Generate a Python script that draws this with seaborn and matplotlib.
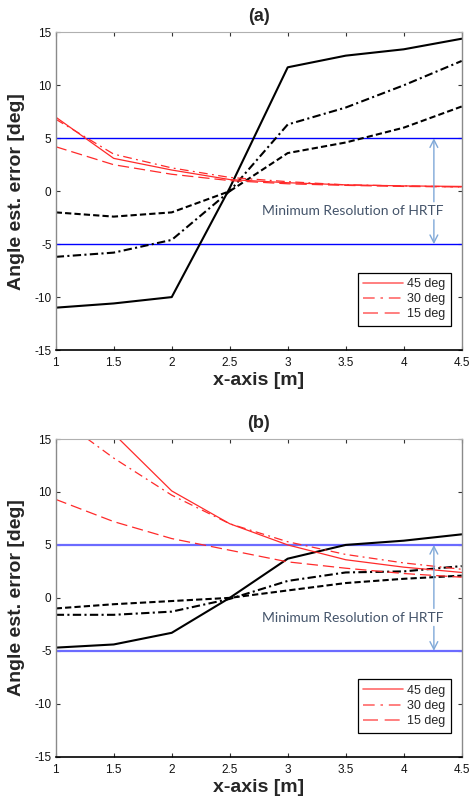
import matplotlib
matplotlib.use("Agg")
import matplotlib.pyplot as plt
from matplotlib.lines import Line2D
import numpy as np
import pandas as pd
import seaborn as sns

# Source-listener distance [m]
dist = [1.0, 1.5, 2.0, 2.5, 3.0, 3.5, 4.0, 4.5]

# Panel (a): angle estimation error [deg]
a_black_solid = [-11.0, -10.6, -10.0, 0.3, 11.7, 12.8, 13.4, 14.4]
a_black_dashdot = [-6.2, -5.8, -4.6, 0.0, 6.3, 7.9, 10.0, 12.3]
a_black_dashed = [-2.0, -2.4, -2.0, 0.0, 3.6, 4.6, 6.0, 8.0]
a_red_45 = [7.0, 3.1, 2.0, 1.1, 0.8, 0.6, 0.5, 0.45]
a_red_30 = [6.8, 3.5, 2.2, 1.3, 0.9, 0.6, 0.5, 0.4]
a_red_15 = [4.2, 2.5, 1.6, 1.0, 0.7, 0.55, 0.45, 0.4]

# Panel (b): angle estimation error [deg]
b_black_solid = [-4.7, -4.4, -3.3, 0.0, 3.7, 5.0, 5.4, 6.0]
b_black_dashdot = [-1.6, -1.6, -1.3, -0.1, 1.6, 2.4, 2.5, 3.0]
b_black_dashed = [-1.0, -0.6, -0.3, 0.0, 0.7, 1.4, 1.8, 2.1]
b_red_45 = [22.0, 15.5, 10.1, 7.0, 5.0, 3.6, 2.9, 2.4]
b_red_30 = [17.2, 13.2, 9.7, 7.0, 5.3, 4.1, 3.3, 2.7]
b_red_15 = [9.3, 7.2, 5.6, 4.5, 3.4, 2.8, 2.3, 1.95]

legend_labels = ["45 deg", "30 deg", "15 deg"]
x_ticks = [1, 1.5, 2, 2.5, 3, 3.5, 4, 4.5]
x_tick_labels = ["1", "1.5", "2", "2.5", "3", "3.5", "4", "4.5"]
y_ticks = [-15, -10, -5, 0, 5, 10, 15]
resolution = 5.0

sns.set_style("ticks")
plt.rcParams["font.family"] = ["Liberation Sans", "DejaVu Sans"]
plt.rcParams["axes.unicode_minus"] = False

fig = plt.figure(figsize=(4.71, 8.01), dpi=100)
ax_a = fig.add_axes([0.1183, 0.5630, 0.8620, 0.3966])
ax_b = fig.add_axes([0.1183, 0.0553, 0.8620, 0.3966])

red = "#ff2a2a"
red_leg = "#ff6a6a"
black_styles = ["-", (0, (4, 1.6, 1, 1.6)), (0, (3, 1.5))]
red_styles = ["-", (0, (7, 3.5, 1.5, 3.5)), (0, (9, 4))]


def draw_panel(ax, title, blacks, reds, hline_color, hline_lw):
    for vals, ls in zip(blacks, black_styles):
        sns.lineplot(x=dist, y=vals, ax=ax, color="black", lw=1.5,
                     linestyle=ls, legend=False)
    for vals, ls in zip(reds, red_styles):
        sns.lineplot(x=dist, y=vals, ax=ax, color=red, lw=0.9,
                     linestyle=ls, legend=False)

    ax.axhline(resolution, color=hline_color, lw=hline_lw, zorder=1)
    ax.axhline(-resolution, color=hline_color, lw=hline_lw, zorder=1)

    arrow_x = 4.26
    arrow_kw = dict(arrowstyle="->,head_length=0.55,head_width=0.28",
                    color="#7fa8d8", lw=1.0, shrinkA=0, shrinkB=0)
    ax.annotate("", xy=(arrow_x, resolution), xytext=(arrow_x, -1.0),
                arrowprops=arrow_kw)
    ax.annotate("", xy=(arrow_x, -resolution), xytext=(arrow_x, -2.7),
                arrowprops=arrow_kw)
    ax.text(3.56, -1.86, "Minimum Resolution of HRTF", ha="center",
            va="center", color="#44546a", fontsize=10,
            family=["Lato", "DejaVu Sans"])

    ax.set_xlim(1, 4.5)
    ax.set_ylim(-15, 15)
    ax.set_xticks(x_ticks)
    ax.set_xticklabels(x_tick_labels)
    ax.set_yticks(y_ticks)
    ax.tick_params(direction="in", length=3, width=0.8, labelsize=8.5,
                   top=True, right=True, pad=3, colors="#333333",
                   labelcolor="#111111")
    ax.tick_params(axis="x", pad=5)

    for side in ["left", "right"]:
        ax.spines[side].set_color("#8a8a8a")
        ax.spines[side].set_linewidth(1.0)
    ax.spines["top"].set_color("#b0b0b0")
    ax.spines["top"].set_linewidth(0.8)
    ax.spines["bottom"].set_color("black")
    ax.spines["bottom"].set_linewidth(1.2)

    ax.set_title(title, fontsize=13, fontweight="bold", pad=8)
    ax.set_xlabel("x-axis [m]", fontsize=14, fontweight="bold")
    ax.set_ylabel("Angle est. error [deg]", fontsize=14, fontweight="bold")
    ax.xaxis.set_label_coords(0.5, -0.07)
    ax.yaxis.set_label_coords(-0.075, 0.5)

    handles = [Line2D([0], [0], color=red_leg, lw=1.2, linestyle=ls)
               for ls in red_styles]
    leg = ax.legend(handles, legend_labels, loc="lower right",
                    bbox_to_anchor=(0.973, 0.0755), fontsize=9,
                    frameon=True, fancybox=False, handlelength=3.2,
                    handletextpad=0.3, labelspacing=0.25, borderpad=0.45,
                    borderaxespad=0)
    leg.get_frame().set_edgecolor("black")
    leg.get_frame().set_linewidth(0.9)
    leg.get_frame().set_alpha(1)


draw_panel(ax_a, "(a)",
           [a_black_solid, a_black_dashdot, a_black_dashed],
           [a_red_45, a_red_30, a_red_15], "#0000ff", 1.0)
draw_panel(ax_b, "(b)",
           [b_black_solid, b_black_dashdot, b_black_dashed],
           [b_red_45, b_red_30, b_red_15], "#6b6bff", 1.6)

fig.savefig("out.png", dpi=100)
